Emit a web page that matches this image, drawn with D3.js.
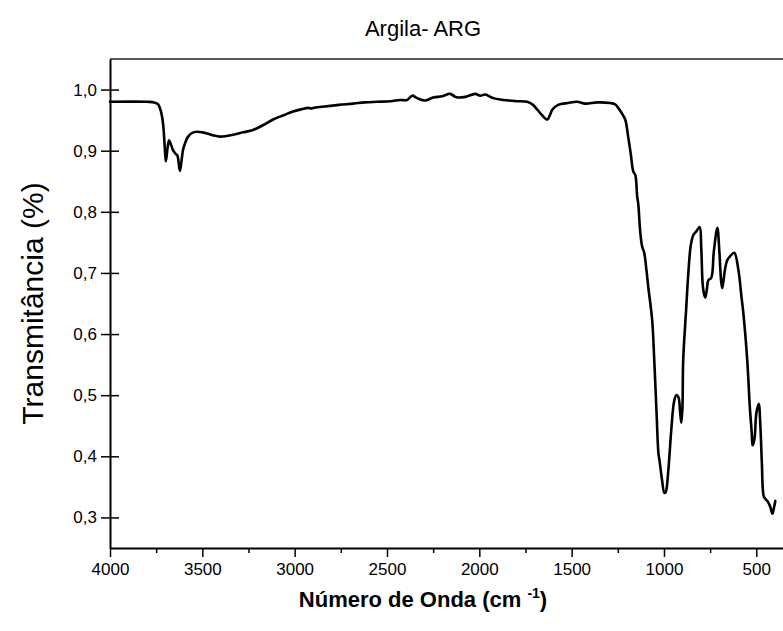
<!DOCTYPE html>
<html>
<head>
<meta charset="utf-8">
<script src="https://cdn.jsdelivr.net/npm/d3@7"></script>
<style>
  html, body { margin: 0; padding: 0; background: #fff; }
  svg { display: block; }
  text { font-family: "Liberation Sans", Arial, sans-serif; fill: #000; }
</style>
</head>
<body>
<svg id="chart" width="783" height="631"></svg>
<script>
const title = "Argila- ARG";
const xLabel = "Número de Onda (cm";
const xLabelSup = "-1";
const yLabel = "Transmitância (%)";

const xTicks = [4000, 3500, 3000, 2500, 2000, 1500, 1000, 500];
const xMinorTicks = [3750, 3250, 2750, 2250, 1750, 1250, 750];
const yTicks = [0.3, 0.4, 0.5, 0.6, 0.7, 0.8, 0.9, 1.0];

const wavenumber = [4000, 3800, 3760, 3740, 3725, 3713, 3700, 3697, 3688, 3680, 3670, 3659, 3645, 3635, 3625, 3621, 3612, 3604, 3590, 3577, 3555, 3529, 3500, 3474, 3440, 3404, 3370, 3334, 3280, 3225, 3170, 3117, 3060, 3009, 2960, 2927, 2910, 2900, 2851, 2760, 2683, 2620, 2553, 2480, 2429, 2391, 2364, 2337, 2293, 2250, 2200, 2158, 2130, 2115, 2077, 2022, 1995, 1968, 1925, 1870, 1800, 1741, 1710, 1686, 1660, 1632, 1618, 1605, 1573, 1520, 1470, 1426, 1361, 1291, 1265, 1248, 1230, 1210, 1194, 1180, 1166, 1155, 1145, 1139, 1128, 1118, 1107, 1095, 1085, 1064, 1053, 1040, 1030, 1024, 1010, 998, 990, 977, 960, 945, 933, 922, 912, 906, 900, 896, 880, 868, 855, 841, 825, 807, 798, 790, 781, 776, 767, 760, 744, 730, 711, 700, 690, 684, 670, 657, 640, 619, 597, 580, 570, 549, 535, 525, 520, 510, 500, 487, 478, 470, 460, 450, 440, 425, 413, 405, 397];
const transmittance = [0.980, 0.980, 0.979, 0.976, 0.965, 0.945, 0.890, 0.883, 0.905, 0.917, 0.910, 0.901, 0.895, 0.892, 0.872, 0.867, 0.885, 0.902, 0.915, 0.923, 0.929, 0.931, 0.930, 0.928, 0.925, 0.923, 0.924, 0.926, 0.930, 0.934, 0.942, 0.951, 0.958, 0.964, 0.968, 0.970, 0.969, 0.970, 0.972, 0.975, 0.977, 0.979, 0.980, 0.981, 0.983, 0.983, 0.990, 0.986, 0.982, 0.987, 0.989, 0.993, 0.988, 0.987, 0.988, 0.993, 0.990, 0.992, 0.986, 0.983, 0.981, 0.980, 0.975, 0.967, 0.958, 0.951, 0.958, 0.967, 0.975, 0.978, 0.980, 0.977, 0.979, 0.978, 0.976, 0.970, 0.962, 0.951, 0.923, 0.895, 0.866, 0.860, 0.825, 0.812, 0.765, 0.743, 0.733, 0.705, 0.677, 0.623, 0.560, 0.470, 0.405, 0.393, 0.360, 0.340, 0.342, 0.375, 0.445, 0.490, 0.500, 0.497, 0.470, 0.455, 0.480, 0.557, 0.640, 0.700, 0.745, 0.762, 0.768, 0.775, 0.740, 0.680, 0.663, 0.660, 0.675, 0.688, 0.692, 0.735, 0.774, 0.735, 0.685, 0.675, 0.705, 0.721, 0.728, 0.733, 0.705, 0.660, 0.634, 0.557, 0.480, 0.440, 0.418, 0.428, 0.470, 0.486, 0.450, 0.390, 0.335, 0.330, 0.327, 0.318, 0.306, 0.315, 0.327];

const svg = d3.select("#chart");
const mLeft = 110, mTop = 59, mBottom = 548, mRight = 784;

const x = d3.scaleLinear().domain([4000, 350]).range([mLeft, mRight]);
const y = d3.scaleLinear().domain([0.25, 1.05]).range([mBottom, mTop]);

const fmt = v => d3.format(".1f")(v).replace(".", ",");

// top frame line
svg.append("line")
  .attr("x1", mLeft).attr("x2", 783).attr("y1", mTop).attr("y2", mTop)
  .attr("stroke", "#222").attr("stroke-width", 1.5);

// x axis
const xAxis = svg.append("g").attr("transform", `translate(0,${mBottom})`)
  .call(d3.axisBottom(x).tickValues(xTicks).tickFormat(d3.format("d")).tickSize(9).tickSizeOuter(0).tickPadding(6));
xAxis.select(".domain").attr("stroke", "#000").attr("stroke-width", 2);
xAxis.selectAll(".tick line").attr("stroke", "#000").attr("stroke-width", 1.5);
xAxis.selectAll(".tick text").attr("font-size", 17).attr("font-family", "Liberation Sans, Arial, sans-serif");

const xMinor = svg.append("g").attr("transform", `translate(0,${mBottom})`)
  .call(d3.axisBottom(x).tickValues(xMinorTicks).tickFormat("").tickSize(5).tickSizeOuter(0));
xMinor.select(".domain").remove();
xMinor.selectAll(".tick line").attr("stroke", "#000").attr("stroke-width", 1.5);

// y axis
const yAxis = svg.append("g").attr("transform", `translate(${mLeft},0)`)
  .call(d3.axisLeft(y).tickValues(yTicks).tickFormat(fmt).tickSize(9).tickSizeOuter(0).tickPadding(4));
yAxis.select(".domain").attr("stroke", "#000").attr("stroke-width", 2);
yAxis.selectAll(".tick line").attr("x1", 9).attr("x2", -9).attr("stroke", "#000").attr("stroke-width", 1.5);
yAxis.selectAll(".tick text").attr("font-size", 17).attr("font-family", "Liberation Sans, Arial, sans-serif");

// curve
const data = wavenumber.map((w, i) => ({ w, t: transmittance[i] }));
const line = d3.line().x(d => x(d.w)).y(d => y(d.t)).curve(d3.curveCatmullRom.alpha(0.5));
svg.append("path").datum(data)
  .attr("d", line)
  .attr("fill", "none").attr("stroke", "#000").attr("stroke-width", 2.6)
  .attr("stroke-linejoin", "round").attr("stroke-linecap", "round");

// title
svg.append("text").attr("x", 423).attr("y", 36).attr("text-anchor", "middle")
  .attr("font-size", 22).text(title);

// x label
const xl = svg.append("text").attr("x", 423).attr("y", 607).attr("text-anchor", "middle")
  .attr("font-size", 22).attr("font-weight", "bold");
xl.append("tspan").text(xLabel + " ");
xl.append("tspan").attr("font-size", 14).attr("dy", -9).text(xLabelSup);
xl.append("tspan").attr("dy", 9).text(")");

// y label
svg.append("text").attr("transform", `translate(43,${(mTop + mBottom) / 2}) rotate(-90)`)
  .attr("text-anchor", "middle").attr("font-size", 30).text(yLabel);
</script>
</body>
</html>
